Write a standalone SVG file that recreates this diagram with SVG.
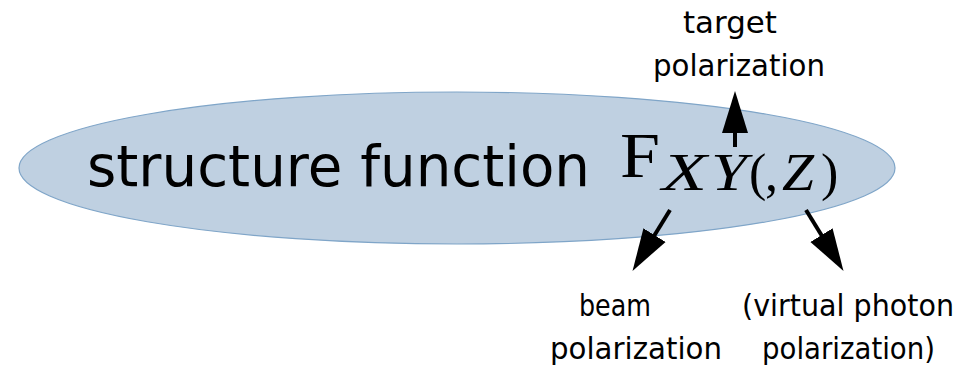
<svg xmlns="http://www.w3.org/2000/svg" width="966" height="369" viewBox="0 0 966 369">
<style>
.lbl{font-family:"DejaVu Sans","Open Sans",sans-serif;font-size:31px;fill:#000}
.main{font-family:"DejaVu Sans","Open Sans",sans-serif;font-size:57px;fill:#000}
.math{font-family:"Liberation Serif","DejaVu Serif",serif;fill:#000}
.sub{font-size:52px}
.it{font-style:italic}
.conn{stroke:#000;stroke-width:4;fill:none}
</style>
<defs>
<marker id="ah" markerUnits="userSpaceOnUse" markerWidth="42" markerHeight="28" viewBox="0 0 42 28" refX="1" refY="14" orient="auto">
<path d="M0,1 L42,14 L0,27 Z" fill="#000"/>
</marker>
</defs>
<g id="node-structure-function">
<ellipse cx="457" cy="168" rx="438" ry="76" fill="#bfd0e1" stroke="#7fa5c8" stroke-width="1.2"/>
<text class="main" x="87" y="186" textLength="503" lengthAdjust="spacingAndGlyphs">structure function</text>
<text class="math" x="620" y="177" font-size="64" textLength="40" lengthAdjust="spacingAndGlyphs">F</text>
<text class="math sub it" x="662" y="190" textLength="45" lengthAdjust="spacingAndGlyphs">X</text>
<text class="math sub it" x="711" y="190" textLength="36" lengthAdjust="spacingAndGlyphs">Y</text>
<text class="math sub" x="749" y="190">(</text>
<text class="math sub" x="765" y="190">,</text>
<text class="math sub it" x="782" y="190" textLength="32" lengthAdjust="spacingAndGlyphs">Z</text>
<text class="math sub" x="821" y="190">)</text>
</g>
<g id="node-target">
<text class="lbl" x="683" y="33" textLength="94" lengthAdjust="spacingAndGlyphs">target</text>
<text class="lbl" x="653" y="76" textLength="172" lengthAdjust="spacingAndGlyphs">polarization</text>
</g>
<g id="node-beam">
<text class="lbl" x="579" y="316" textLength="72" lengthAdjust="spacingAndGlyphs">beam</text>
<text class="lbl" x="550" y="359" textLength="172" lengthAdjust="spacingAndGlyphs">polarization</text>
</g>
<g id="node-photon">
<text class="lbl" x="954" y="316" font-size="28" text-anchor="end" textLength="212" lengthAdjust="spacingAndGlyphs">(virtual photon</text>
<text class="lbl" x="762" y="359" textLength="173" lengthAdjust="spacingAndGlyphs">polarization)</text>
</g>
<g id="connectors">
<line class="conn" x1="735" y1="147" x2="735" y2="132" marker-end="url(#ah)"/>
<line class="conn" x1="670" y1="210" x2="654" y2="236" marker-end="url(#ah)"/>
<line class="conn" x1="806" y1="210" x2="822" y2="236" marker-end="url(#ah)"/>
</g>
</svg>
